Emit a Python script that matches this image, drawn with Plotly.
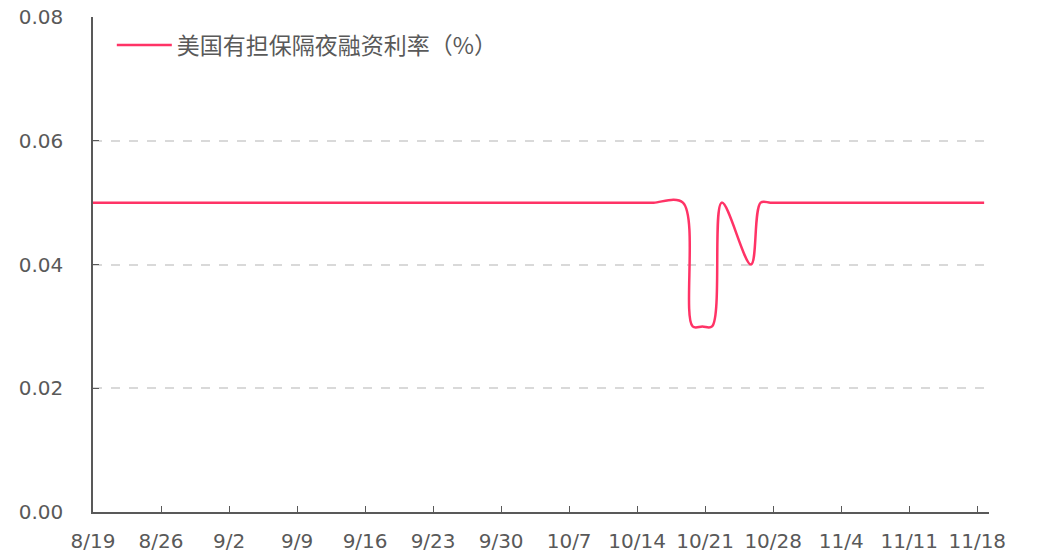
import pandas as pd
import plotly.graph_objects as go

# ---- data ----
series_name = "美国有担保隔夜融资利率（%）"
holidays = ["2021-09-06", "2021-10-11", "2021-11-11"]
# observation timestamps (business days, late in the day)
dates = [d + pd.Timedelta(hours=17) for d in pd.bdate_range("2021-08-18", "2021-11-18")
         if d.strftime("%Y-%m-%d") not in holidays]

aug_vals = [0.05, 0.05, 0.05, 0.05, 0.05, 0.05, 0.05, 0.05, 0.05, 0.05]
sep_vals = [0.05] * 21
oct_vals = [0.05, 0.05, 0.05, 0.05, 0.05, 0.05, 0.05, 0.05, 0.05, 0.05,
            0.05, 0.03, 0.03, 0.03, 0.05, 0.04, 0.05, 0.05, 0.05, 0.05]
nov_vals = [0.05] * 13
values = aug_vals + sep_vals + oct_vals + nov_vals

tick_labels = ["8/19", "8/26", "9/2", "9/9", "9/16", "9/23", "9/30",
               "10/7", "10/14", "10/21", "10/28", "11/4", "11/11", "11/18"]
tick_dates = list(pd.date_range("2021-08-19", periods=len(tick_labels), freq="7D"))

y_ticks = [0.0, 0.02, 0.04, 0.06, 0.08]

fig = go.Figure()
fig.add_trace(go.Scatter(
    x=dates, y=values, mode="lines", name=series_name,
    line=dict(color="#FF3366", width=2.5, shape="spline", smoothing=1.0),
))

axis_color = "#595959"
font_family = "Noto Sans CJK SC"
tick_font = "DejaVu Sans"

fig.update_layout(
    width=1045, height=557,
    margin=dict(l=93, r=56, t=17, b=45, autoexpand=False),
    paper_bgcolor="white", plot_bgcolor="white",
    font=dict(family=font_family, color=axis_color, size=19),
    showlegend=True,
    legend=dict(x=0.021, y=0.987, xanchor="left", yanchor="top",
                bgcolor="rgba(0,0,0,0)", itemwidth=55,
                font=dict(size=23, color=axis_color, family=font_family)),
    xaxis=dict(
        type="date", automargin=False,
        range=["2021-08-19", "2021-11-19 05:00"],
        tickvals=tick_dates, ticktext=tick_labels,
        showgrid=False, showline=True, linecolor=axis_color, linewidth=1.5,
        ticks="inside", ticklen=6, tickcolor=axis_color, tickwidth=1,
        tickfont=dict(size=20, color=axis_color, family=tick_font),
        ticklabelstandoff=10,
    ),
    yaxis=dict(
        range=[0, 0.08], automargin=False,
        tickvals=y_ticks, tickformat=".2f",
        showgrid=True, gridcolor="#D9D9D9", gridwidth=2, griddash="dash",
        zeroline=False,
        showline=True, linecolor=axis_color, linewidth=1.5,
        ticks="inside", ticklen=6, tickcolor=axis_color, tickwidth=1,
        tickfont=dict(size=20, color=axis_color, family=tick_font),
        ticklabelstandoff=24,
    ),
)

fig.write_html("out.html", config={"responsive": False, "displayModeBar": False},
               post_script="document.body.style.margin='0px';")
